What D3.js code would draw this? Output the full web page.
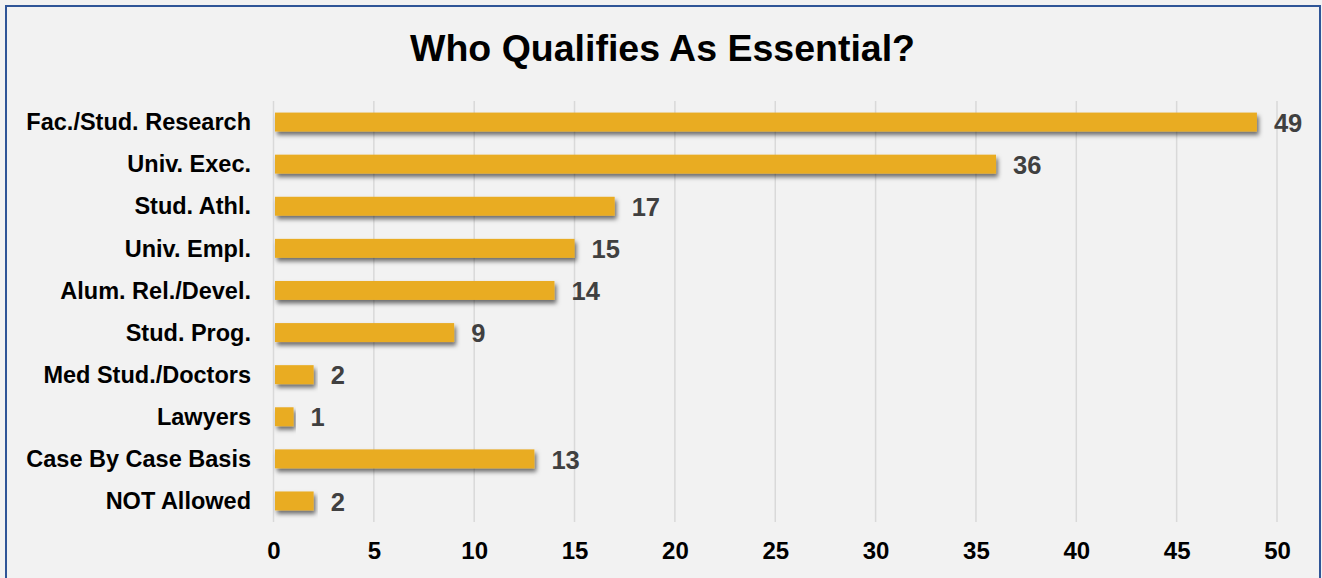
<!DOCTYPE html>
<html>
<head>
<meta charset="utf-8">
<script src="https://cdn.jsdelivr.net/npm/d3@7"></script>
<style>
  html, body { margin: 0; padding: 0; background: #fff; }
  svg { display: block; }
  text { font-family: "Liberation Sans", Arial, sans-serif; }
</style>
</head>
<body>
<svg id="chart" width="1322" height="578"></svg>
<script>
const categories = ["Fac./Stud. Research", "Univ. Exec.", "Stud. Athl.", "Univ. Empl.", "Alum. Rel./Devel.", "Stud. Prog.", "Med Stud./Doctors", "Lawyers", "Case By Case Basis", "NOT Allowed"];
const values = [49, 36, 17, 15, 14, 9, 2, 1, 13, 2];
const tickValues = [0, 5, 10, 15, 20, 25, 30, 35, 40, 45, 50];
const title = "Who Qualifies As Essential?";

const svg = d3.select("#chart");
const W = 1322, H = 578;
const FONT = '"Liberation Sans", Arial, sans-serif';

const defs = svg.append("defs");
const f = defs.append("filter").attr("id", "shadow").attr("x", "-5%").attr("y", "-40%").attr("width", "115%").attr("height", "200%");
f.append("feDropShadow").attr("dx", 2).attr("dy", 3.5).attr("stdDeviation", 2.2).attr("flood-color", "#000").attr("flood-opacity", 0.55);

// background + border
svg.append("rect").attr("x", 0).attr("y", 0).attr("width", W).attr("height", H).attr("fill", "#f2f2f2");
svg.append("path")
  .attr("d", `M6,${H + 5} L6,6 L1320,6 L1320,${H + 5}`)
  .attr("fill", "none").attr("stroke", "#2f5597").attr("stroke-width", 2);

svg.append("text").attr("x", 662.5).attr("y", 60.5).attr("text-anchor", "middle")
  .attr("font-size", 37.5).attr("font-weight", "bold").attr("fill", "#000").text(title);

const x = d3.scaleLinear().domain([0, 50]).range([273.5, 1277]);
const y = d3.scaleBand().domain(categories).range([101, 522]).paddingInner(0.55).paddingOuter(0.275);

// gridlines
svg.append("g").selectAll("line").data(tickValues).join("line")
  .attr("x1", d => x(d)).attr("x2", d => x(d))
  .attr("y1", 101).attr("y2", 522)
  .attr("stroke", "#d9d9d9").attr("stroke-width", 1.5);

// x axis labels
const xAxis = d3.axisBottom(x).tickValues(tickValues).tickSize(0).tickPadding(0);
const gx = svg.append("g").attr("transform", "translate(0,542)").call(xAxis);
gx.select(".domain").remove();
gx.selectAll("text").attr("font-size", 24).attr("font-weight", "bold").attr("fill", "#000")
  .attr("font-family", FONT).attr("dy", "0.71em");

// y axis labels
const yAxis = d3.axisLeft(y).tickSize(0).tickPadding(22.5);
const gy = svg.append("g").attr("transform", `translate(${x(0)},0)`).call(yAxis);
gy.select(".domain").remove();
gy.selectAll("text").attr("font-size", 23.5).attr("font-weight", "bold").attr("fill", "#000")
  .attr("font-family", FONT).attr("dy", "0.35em");

// bars
svg.append("g").selectAll("rect").data(values).join("rect")
  .attr("x", x(0) + 1.5)
  .attr("y", (d, i) => y(categories[i]))
  .attr("width", d => x(d) - x(0) - 1.5)
  .attr("height", y.bandwidth())
  .attr("fill", "#e9ac23")
  .attr("filter", "url(#shadow)");

// value labels
svg.append("g").selectAll("text").data(values).join("text")
  .attr("x", d => x(d) + 17)
  .attr("y", (d, i) => y(categories[i]) + y.bandwidth() / 2)
  .attr("dy", "0.38em")
  .attr("font-size", 25.5).attr("font-weight", "bold").attr("fill", "#404040")
  .text(d => d);
</script>
</body>
</html>
